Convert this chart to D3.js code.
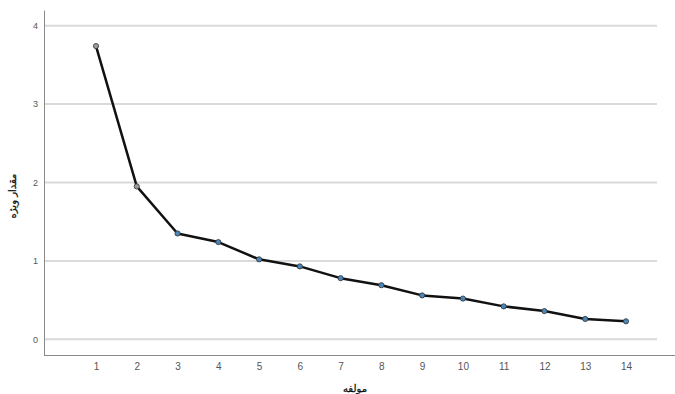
<!DOCTYPE html>
<html>
<head>
<meta charset="utf-8">
<script src="https://cdn.jsdelivr.net/npm/d3@7"></script>
<style>
  html, body { margin: 0; padding: 0; background: #fff; }
  svg { display: block; }
  text { font-family: "Liberation Sans", "DejaVu Sans", sans-serif; }
  text.title { font-family: "DejaVu Sans", sans-serif; }
</style>
</head>
<body>
<svg id="chart" width="675" height="394"></svg>
<script>
// Scree plot: eigenvalue per component
const components = [1, 2, 3, 4, 5, 6, 7, 8, 9, 10, 11, 12, 13, 14];
const eigenvalues = [3.74, 1.95, 1.35, 1.24, 1.02, 0.93, 0.78, 0.69, 0.56, 0.52, 0.42, 0.36, 0.26, 0.23];
const yTicks = [0, 1, 2, 3, 4];
const xTitle = "مولفه";
const yTitle = "مقدار ویژه";

const svg = d3.select("#chart");

const x = d3.scaleLinear().domain([1, 14]).range([96, 626]);
const y = d3.scaleLinear().domain([-0.2, 4.2]).range([355, 10]);

const left = 44, gridRight = 657, axisRight = 675;

// horizontal grid
svg.append("g")
  .selectAll("line")
  .data(yTicks)
  .join("line")
  .attr("x1", left).attr("x2", gridRight)
  .attr("y1", d => y(d)).attr("y2", d => y(d))
  .attr("stroke", "#dadada")
  .attr("stroke-width", 2);

// y axis
const yAxis = svg.append("g")
  .attr("transform", `translate(${left},0)`)
  .call(d3.axisLeft(y).tickValues(yTicks).tickFormat(d3.format("d")).tickSize(0).tickPadding(6));
yAxis.select(".domain").attr("stroke", "#8a8a8a").attr("stroke-width", 1);
yAxis.selectAll("text").attr("fill", "#555").attr("font-size", 9);

// x axis
const xAxis = svg.append("g")
  .attr("transform", `translate(0,355)`)
  .call(d3.axisBottom(x).tickValues(components).tickFormat(d3.format("d")).tickSize(0).tickPadding(8));
xAxis.select(".domain").attr("d", `M${left},0.5H${axisRight}`).attr("stroke", "#8a8a8a").attr("stroke-width", 1);
xAxis.selectAll("text").attr("fill", "#555").attr("font-size", 10);

// line
const line = d3.line()
  .x((d, i) => x(components[i]))
  .y(d => y(d));

svg.append("path")
  .datum(eigenvalues)
  .attr("d", line)
  .attr("fill", "none")
  .attr("stroke", "#111")
  .attr("stroke-width", 2.5)
  .attr("stroke-linejoin", "round");

// markers
svg.append("g")
  .selectAll("circle")
  .data(eigenvalues)
  .join("circle")
  .attr("cx", (d, i) => x(components[i]))
  .attr("cy", d => y(d))
  .attr("r", 2.6)
  .attr("fill", (d, i) => i < 2 ? "#9a9a9a" : "#4a86b8")
  .attr("stroke", "#333")
  .attr("stroke-width", 0.8);

// axis titles
svg.append("text")
  .attr("class", "title")
  .attr("x", 355).attr("y", 392)
  .attr("text-anchor", "middle")
  .attr("font-size", 10)
  .attr("fill", "#111")
  .attr("stroke", "#111").attr("stroke-width", 0.3)
  .text(xTitle);

svg.append("text")
  .attr("class", "title")
  .attr("transform", "translate(16,196) rotate(-90)")
  .attr("text-anchor", "middle")
  .attr("font-size", 10)
  .attr("fill", "#111")
  .attr("stroke", "#111").attr("stroke-width", 0.3)
  .text(yTitle);
</script>
</body>
</html>
